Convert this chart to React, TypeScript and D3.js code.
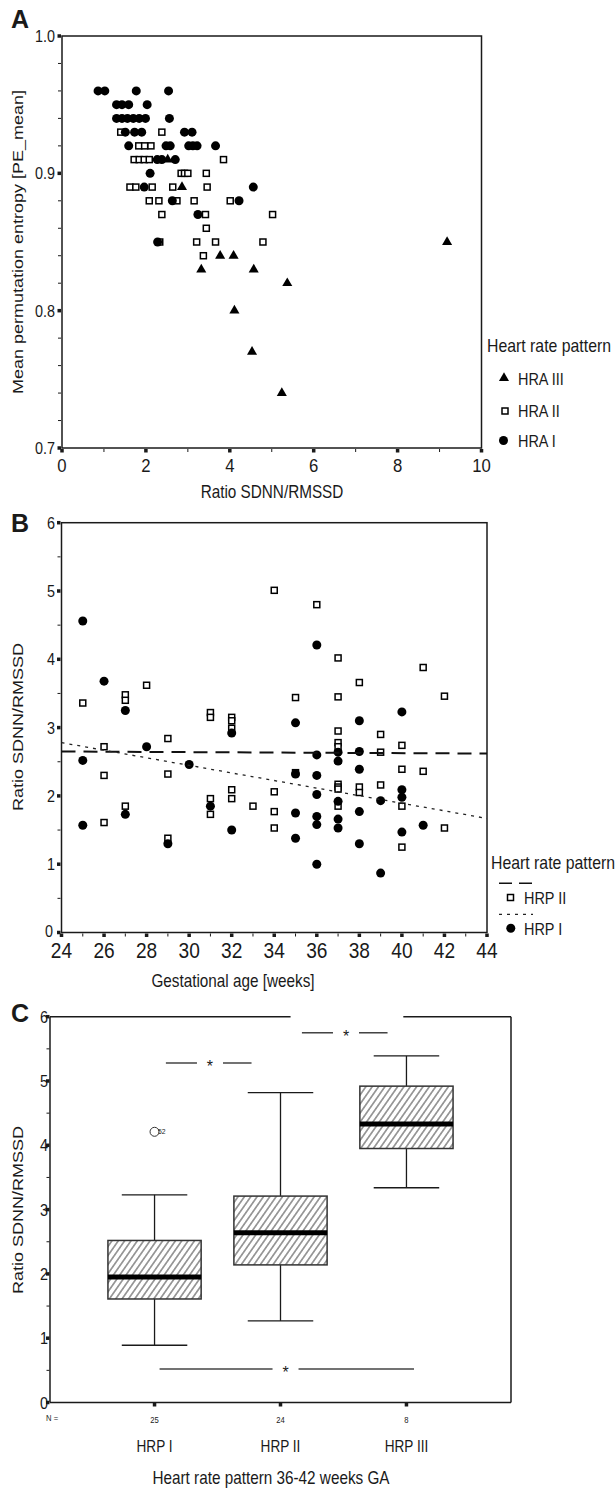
import React from "react";
import * as d3 from "d3";

const W = 616;
const H = 1488;
const FONT = "'Liberation Sans', Arial, Helvetica, sans-serif";
const SX = 0.85;
const INK = "#1a1a1a";

// ---------------- Panel A data: [Ratio SDNN/RMSSD, PE_mean] ----------------
const hraI: [number, number][] = [
  [0.86, 0.96], [1.02, 0.96], [1.77, 0.96], [2.54, 0.96],
  [1.3, 0.95], [1.43, 0.95], [1.59, 0.95], [2.03, 0.95],
  [1.3, 0.94], [1.43, 0.94], [1.56, 0.94], [1.7, 0.94], [1.84, 0.94], [1.99, 0.94], [2.56, 0.94],
  [1.51, 0.93], [1.73, 0.93], [1.9, 0.93], [2.92, 0.93], [3.1, 0.93],
  [1.59, 0.92], [2.48, 0.92], [2.58, 0.92], [3.02, 0.92], [3.12, 0.92], [3.22, 0.92], [3.66, 0.92],
  [2.27, 0.91], [2.38, 0.91], [2.7, 0.91],
  [2.1, 0.9],
  [1.96, 0.89], [4.56, 0.89],
  [2.63, 0.88], [4.22, 0.88],
  [3.24, 0.87],
  [2.28, 0.85],
];
const hraII: [number, number][] = [
  [1.4, 0.93], [2.38, 0.93],
  [1.83, 0.92], [1.97, 0.92], [2.12, 0.92],
  [1.72, 0.91], [1.84, 0.91], [1.96, 0.91], [2.08, 0.91], [3.85, 0.91],
  [2.84, 0.9], [2.92, 0.9], [3.0, 0.9], [3.44, 0.9],
  [1.62, 0.89], [1.76, 0.89], [2.15, 0.89], [2.64, 0.89], [3.46, 0.89],
  [2.08, 0.88], [2.31, 0.88], [2.74, 0.88], [3.15, 0.88], [4.01, 0.88],
  [2.38, 0.87], [3.42, 0.87], [5.02, 0.87],
  [3.44, 0.86],
  [2.33, 0.85], [3.21, 0.85], [3.66, 0.85], [4.79, 0.85],
  [3.37, 0.84],
];
const hraIII: [number, number][] = [
  [2.52, 0.91], [2.86, 0.89], [9.18, 0.85], [3.77, 0.84], [4.09, 0.84],
  [3.32, 0.83], [4.57, 0.83], [5.37, 0.82], [4.11, 0.8], [4.53, 0.77], [5.24, 0.74],
];
const xTicksA = [0, 2, 4, 6, 8, 10];
const yTicksA = [0.7, 0.8, 0.9, 1.0];
const legendA = ["HRA III", "HRA II", "HRA I"];

// ---------------- Panel B data: [gestational week, ratio] ----------------
const hrpI: [number, number][] = [
  [25, 4.56], [25, 2.52], [25, 1.57],
  [26, 3.68],
  [27, 3.25], [27, 1.73],
  [28, 2.72],
  [29, 1.3],
  [30, 2.46],
  [31, 1.85],
  [32, 2.92], [32, 1.5],
  [35, 3.07], [35, 2.32], [35, 1.75], [35, 1.38],
  [36, 4.21], [36, 2.6], [36, 2.3], [36, 2.02], [36, 1.7], [36, 1.58], [36, 1.0],
  [37, 2.64], [37, 2.51], [37, 1.92], [37, 1.66], [37, 1.53],
  [38, 3.1], [38, 2.65], [38, 2.39], [38, 1.77], [38, 1.3],
  [39, 1.93], [39, 0.87],
  [40, 3.23], [40, 2.09], [40, 1.98], [40, 1.47],
  [41, 1.57],
];
const hrpII: [number, number][] = [
  [25, 3.36],
  [26, 2.72], [26, 2.3], [26, 1.61],
  [27, 3.48], [27, 3.4], [27, 1.85],
  [28, 3.62],
  [29, 2.84], [29, 2.32], [29, 1.38],
  [31, 3.22], [31, 3.15], [31, 1.96], [31, 1.73],
  [32, 3.15], [32, 3.1], [32, 2.99], [32, 2.09], [32, 1.96],
  [33, 1.85],
  [34, 5.01], [34, 2.06], [34, 1.77], [34, 1.53],
  [35, 3.44], [35, 2.34],
  [36, 4.8],
  [37, 4.02], [37, 3.45], [37, 2.95], [37, 2.78], [37, 2.72], [37, 2.17], [37, 2.13], [37, 2.1], [37, 1.85],
  [38, 3.66], [38, 2.13], [38, 2.05],
  [39, 2.9], [39, 2.64], [39, 2.16],
  [40, 2.74], [40, 2.39], [40, 1.85], [40, 1.25],
  [41, 3.88], [41, 2.36],
  [42, 3.46], [42, 1.53],
];
// fit lines: [week0, ratio0, week1, ratio1]
const fitHrpII = [24, 2.65, 44, 2.62];
const fitHrpI = [24, 2.78, 44, 1.67];
const xTicksB = [24, 26, 28, 30, 32, 34, 36, 38, 40, 42, 44];
const yTicksB = [0, 1, 2, 3, 4, 5, 6];

// ---------------- Panel C data: box plots ----------------
const categoriesC = ["HRP I", "HRP II", "HRP III"];
const countsC = [25, 24, 8];
const whiskerLow = [0.89, 1.27, 3.34];
const q1 = [1.61, 2.14, 3.95];
const median = [1.95, 2.64, 4.33];
const q3 = [2.52, 3.21, 4.92];
const whiskerHigh = [3.23, 4.82, 5.39];
const outlierCat = ["HRP I"];
const outlierVal = [4.21];
const outlierLabel = ["52"];
// significance brackets: start/end/star in category-index units, y value
const bracketFrom = [0.09, 1.17, 0.04];
const bracketTo = [0.77, 1.85, 2.06];
const bracketStar = [0.44, 1.52, 1.04];
const bracketY = [5.28, 5.75, 0.52];
const yTicksC = [0, 1, 2, 3, 4, 5, 6];

function Txt(props: any) {
  const { x, y, size, anchor = "start", weight = 400, rotate = false, sx = SX, fill = INK, children } = props;
  const t = `translate(${x},${y}) scale(${sx},1)${rotate ? " rotate(-90)" : ""}`;
  return (
    <text transform={t} fontSize={size} fontFamily={FONT} fontWeight={weight} textAnchor={anchor} fill={fill}>
      {children}
    </text>
  );
}

function Circle({ cx, cy, r = 4.5 }: any) {
  return <circle cx={cx} cy={cy} r={r} fill="#000" />;
}
function Square({ cx, cy, s = 6 }: any) {
  return <rect x={cx - s / 2} y={cy - s / 2} width={s} height={s} fill="#fff" stroke="#000" strokeWidth={1.5} />;
}
const triPath = d3.symbol().type(d3.symbolTriangle).size(44)() as string;
function Tri({ cx, cy }: any) {
  return <path d={triPath} transform={`translate(${cx},${cy})`} fill="#000" />;
}

function LeftTicks({ scale, x, major, minor }: any) {
  return (
    <g>
      {minor.map((v: number) => (
        <line key={"m" + v} x1={x - 3} x2={x} y1={scale(v)} y2={scale(v)} stroke={INK} strokeWidth={1} />
      ))}
      {major.map((v: number) => (
        <rect key={"M" + v} x={x - 3.5} y={scale(v) - 1.75} width={3.5} height={3.5} fill={INK} />
      ))}
    </g>
  );
}
function BottomTicks({ scale, y, major, minor }: any) {
  return (
    <g>
      {minor.map((v: number) => (
        <line key={"m" + v} y1={y} y2={y + 3} x1={scale(v)} x2={scale(v)} stroke={INK} strokeWidth={1} />
      ))}
      {major.map((v: number) => (
        <rect key={"M" + v} y={y} x={scale(v) - 1.75} width={3.5} height={3.5} fill={INK} />
      ))}
    </g>
  );
}

function PanelA() {
  const x = d3.scaleLinear().domain([0, 10]).range([62, 481.5]);
  const y = d3.scaleLinear().domain([0.7, 1.0]).range([448, 36]);
  const minorY = d3.range(35, 50).filter((i) => i % 5 !== 0).map((i) => i * 0.02);
  const minorX = [1, 3, 5, 7, 9];
  const legendY = [378, 410, 440.5];
  return (
    <g>
      <Txt x={11} y={28} size={25} weight={700} sx={1}>A</Txt>
      <rect x={62} y={36} width={419.5} height={412} fill="none" stroke={INK} strokeWidth={1.5} />
      <LeftTicks scale={y} x={61} major={yTicksA} minor={minorY} />
      <BottomTicks scale={x} y={449} major={xTicksA} minor={minorX} />
      {yTicksA.map((v) => (
        <Txt key={v} x={55} y={y(v) + 6} size={16} anchor="end" sx={0.9}>{v.toFixed(1)}</Txt>
      ))}
      {xTicksA.map((v) => (
        <Txt key={v} x={x(v)} y={472} size={19} anchor="middle" sx={0.88}>{String(v)}</Txt>
      ))}
      {hraII.map((d, i) => <Square key={"s" + i} cx={x(d[0])} cy={y(d[1])} />)}
      {hraI.map((d, i) => <Circle key={"c" + i} cx={x(d[0])} cy={y(d[1])} />)}
      {hraIII.map((d, i) => <Tri key={"t" + i} cx={x(d[0])} cy={y(d[1])} />)}
      <Txt x={272} y={498} size={18} anchor="middle">Ratio SDNN/RMSSD</Txt>
      <Txt x={23} y={242} size={18} anchor="middle" rotate>Mean permutation entropy [PE_mean]</Txt>
      <Txt x={487} y={352} size={18} sx={0.88}>Heart rate pattern</Txt>
      <Tri cx={504} cy={378} />
      <Square cx={505} cy={411} />
      <Circle cx={503.5} cy={440.5} />
      {legendA.map((t, i) => (
        <Txt key={t} x={518} y={legendY[i] + 6.5} size={17}>{t}</Txt>
      ))}
    </g>
  );
}

function PanelB() {
  const x = d3.scaleLinear().domain([24, 44]).range([61.5, 487]);
  const y = d3.scaleLinear().domain([0, 6]).range([932.5, 522.7]);
  const minorX = d3.range(25, 44, 2);
  const minorY = [0.5, 1.5, 2.5, 3.5, 4.5, 5.5];
  return (
    <g>
      <Txt x={11} y={532} size={25} weight={700} sx={1}>B</Txt>
      <rect x={61.5} y={522.7} width={425.5} height={409.8} fill="none" stroke={INK} strokeWidth={1.5} />
      <LeftTicks scale={y} x={60.5} major={yTicksB} minor={minorY} />
      <BottomTicks scale={x} y={933.5} major={xTicksB} minor={minorX} />
      {yTicksB.map((v) => (
        <Txt key={v} x={v === 0 ? 53 : 55} y={y(v) + (v === 0 ? 4.5 : 6)} size={16} anchor="end" sx={0.9}>{String(v)}</Txt>
      ))}
      {xTicksB.map((v) => (
        <Txt key={v} x={x(v)} y={958} size={22} anchor="middle" sx={0.87}>{String(v)}</Txt>
      ))}
      {hrpII.map((d, i) => <Square key={"s" + i} cx={x(d[0])} cy={y(d[1])} />)}
      {hrpI.map((d, i) => <Circle key={"c" + i} cx={x(d[0])} cy={y(d[1])} />)}
      <line x1={x(fitHrpII[0])} y1={y(fitHrpII[1])} x2={x(fitHrpII[2])} y2={y(fitHrpII[3])}
        stroke="#111" strokeWidth={2} strokeDasharray="14 8" />
      <line x1={x(fitHrpI[0])} y1={y(fitHrpI[1])} x2={x(fitHrpI[2])} y2={y(fitHrpI[3])}
        stroke="#222" strokeWidth={1.3} strokeDasharray="3 5" />
      <Txt x={233} y={987} size={18} anchor="middle">Gestational age [weeks]</Txt>
      <Txt x={23} y={727} size={18} anchor="middle" rotate>Ratio SDNN/RMSSD</Txt>
      <Txt x={491} y={869} size={18} sx={0.88}>Heart rate pattern</Txt>
      <line x1={499} x2={533} y1={883.3} y2={883.3} stroke="#111" strokeWidth={1.5} strokeDasharray="13 7" />
      <Square cx={510.5} cy={897.5} />
      <Txt x={524} y={903.5} size={17}>HRP II</Txt>
      <line x1={499} x2={533} y1={914.3} y2={914.3} stroke="#222" strokeWidth={1.3} strokeDasharray="3 5" />
      <Circle cx={510.8} cy={928.3} />
      <Txt x={524} y={935} size={17}>HRP I</Txt>
    </g>
  );
}

function PanelC() {
  const x = d3.scalePoint<string>().domain(categoriesC).range([50, 511]).padding(0.83);
  const step = x.step();
  const xi = (i: number) => (x(categoriesC[0]) as number) + i * step;
  const y = d3.scaleLinear().domain([0, 6]).range([1402.5, 1016.7]);
  const boxW = step * 0.74;
  const capW = step * 0.52;
  const minorY = [0.5, 1.5, 2.5, 3.5, 4.5, 5.5];
  const gap = 13;
  return (
    <g>
      <defs>
        <pattern id="hatch" patternUnits="userSpaceOnUse" width={5.2} height={10} patternTransform="rotate(35)">
          <line x1={2.6} y1={0} x2={2.6} y2={10} stroke="#333" strokeWidth={0.9} />
        </pattern>
      </defs>
      <Txt x={11} y={1022} size={25} weight={700} sx={1}>C</Txt>
      {/* frame */}
      <line x1={50} x2={50} y1={1016.7} y2={1402.5} stroke={INK} strokeWidth={1.5} />
      <line x1={50} x2={511} y1={1402.5} y2={1402.5} stroke={INK} strokeWidth={1.5} />
      <line x1={511} x2={511} y1={1016.7} y2={1402.5} stroke={INK} strokeWidth={1.5} />
      <line x1={50} x2={xi(1.08)} y1={1016.7} y2={1016.7} stroke={INK} strokeWidth={1.5} />
      <line x1={xi(1.975)} x2={511} y1={1016.7} y2={1016.7} stroke={INK} strokeWidth={1.5} />
      <LeftTicks scale={y} x={49.5} major={yTicksC} minor={minorY} />
      {categoriesC.map((c) => (
        <rect key={c} x={(x(c) as number) - 1.75} y={1403} width={3.5} height={3.5} fill={INK} />
      ))}
      {yTicksC.map((v) => (
        <Txt key={v} x={48} y={y(v) + 6} size={16} anchor="end" sx={0.9}>{String(v)}</Txt>
      ))}
      {/* boxes */}
      {categoriesC.map((c, i) => {
        const cx = x(c) as number;
        return (
          <g key={c}>
            <line x1={cx} x2={cx} y1={y(whiskerHigh[i])} y2={y(q3[i])} stroke={INK} strokeWidth={1.3} />
            <line x1={cx} x2={cx} y1={y(q1[i])} y2={y(whiskerLow[i])} stroke={INK} strokeWidth={1.3} />
            <line x1={cx - capW / 2} x2={cx + capW / 2} y1={y(whiskerHigh[i])} y2={y(whiskerHigh[i])} stroke={INK} strokeWidth={1.3} />
            <line x1={cx - capW / 2} x2={cx + capW / 2} y1={y(whiskerLow[i])} y2={y(whiskerLow[i])} stroke={INK} strokeWidth={1.3} />
            <rect x={cx - boxW / 2} y={y(q3[i])} width={boxW} height={y(q1[i]) - y(q3[i])}
              fill="url(#hatch)" stroke="#333" strokeWidth={1.5} />
            <line x1={cx - boxW / 2} x2={cx + boxW / 2} y1={y(median[i])} y2={y(median[i])} stroke="#000" strokeWidth={5} />
            <Txt x={cx} y={1423} size={9} anchor="middle">{String(countsC[i])}</Txt>
            <Txt x={cx} y={1451.5} size={16} anchor="middle">{c}</Txt>
          </g>
        );
      })}
      {outlierCat.map((c, i) => (
        <g key={"o" + i}>
          <circle cx={x(c) as number} cy={y(outlierVal[i])} r={4.5} fill="#fff" stroke="#333" strokeWidth={1} />
          <Txt x={(x(c) as number) + 3.5} y={y(outlierVal[i]) + 2} size={8}>{outlierLabel[i]}</Txt>
        </g>
      ))}
      {bracketY.map((v, i) => {
        const sx = xi(bracketStar[i]);
        return (
          <g key={"b" + i}>
            <line x1={xi(bracketFrom[i])} x2={sx - gap} y1={y(v)} y2={y(v)} stroke="#444" strokeWidth={1.5} />
            <line x1={sx + gap} x2={xi(bracketTo[i])} y1={y(v)} y2={y(v)} stroke="#444" strokeWidth={1.5} />
            <Txt x={sx} y={y(v) + 9} size={16} anchor="middle" sx={1}>*</Txt>
          </g>
        );
      })}
      <Txt x={46} y={1421} size={9}>N =</Txt>
      <Txt x={23} y={1210} size={18} anchor="middle" rotate>Ratio SDNN/RMSSD</Txt>
      <Txt x={271} y={1484} size={18} anchor="middle">Heart rate pattern 36-42 weeks GA</Txt>
    </g>
  );
}

export default function App() {
  return (
    <svg width={W} height={H} viewBox={`0 0 ${W} ${H}`}
      style={{ position: "absolute", left: 0, top: 0, background: "#fff", display: "block" }}>
      <rect x={0} y={0} width={W} height={H} fill="#fff" />
      <PanelA />
      <PanelB />
      <PanelC />
    </svg>
  );
}
